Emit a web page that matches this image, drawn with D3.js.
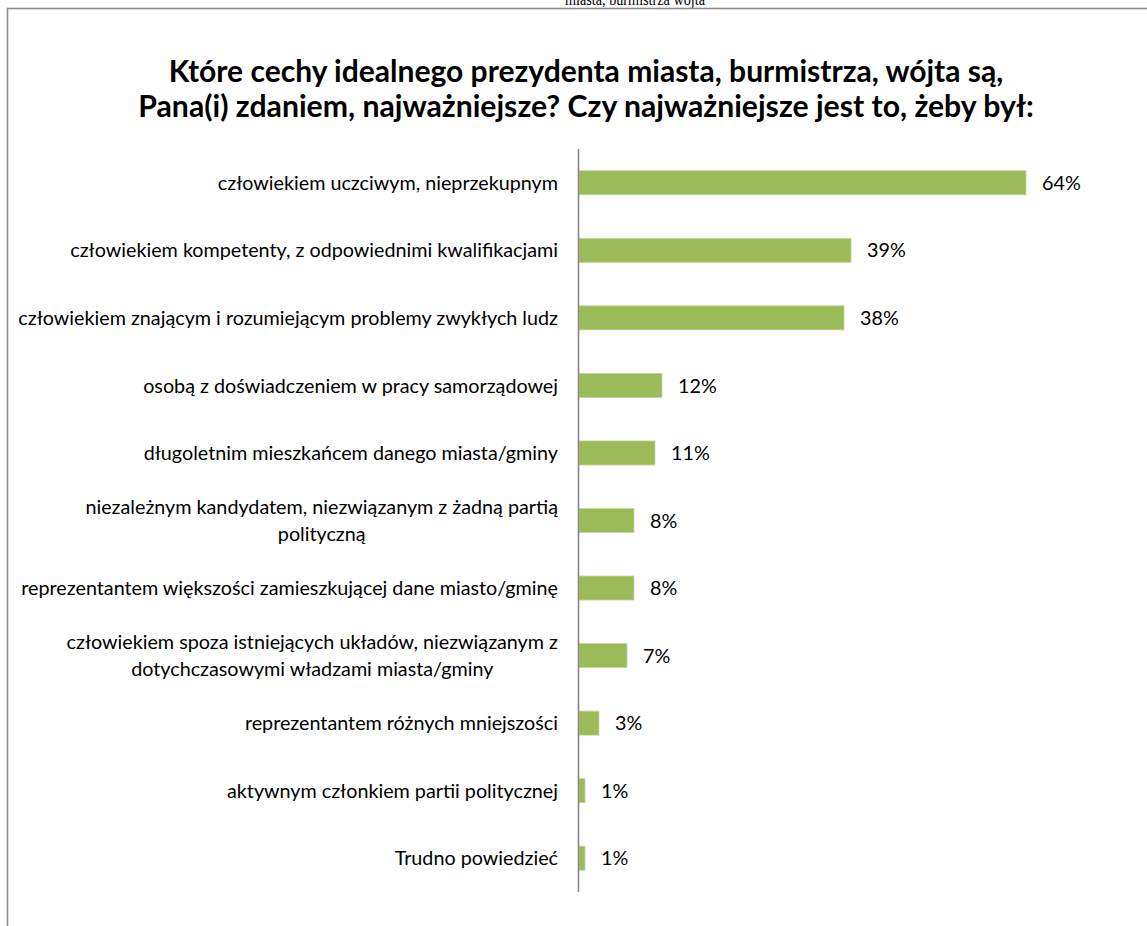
<!DOCTYPE html>
<html>
<head>
<meta charset="utf-8">
<script src="https://cdn.jsdelivr.net/npm/d3@7"></script>
<style>
  html, body { margin: 0; padding: 0; background: #fff; overflow: hidden; }
  svg { display: block; }
</style>
</head>
<body>
<script>
  // chart data
  const categories = [
    "człowiekiem uczciwym, nieprzekupnym",
    "człowiekiem kompetenty, z odpowiednimi kwalifikacjami",
    "człowiekiem znającym i rozumiejącym problemy zwykłych ludz",
    "osobą z doświadczeniem w pracy samorządowej",
    "długoletnim mieszkańcem danego miasta/gminy",
    "niezależnym kandydatem, niezwiązanym z żadną partią\npolityczną",
    "reprezentantem większości zamieszkującej dane miasto/gminę",
    "człowiekiem spoza istniejących układów, niezwiązanym z\ndotychczasowymi władzami miasta/gminy",
    "reprezentantem różnych mniejszości",
    "aktywnym członkiem partii politycznej",
    "Trudno powiedzieć",
  ];
  const values = [64, 39, 38, 12, 11, 8, 8, 7, 3, 1, 1];
  const titleLines = [
    "Które cechy idealnego prezydenta miasta, burmistrza, wójta są,",
    "Pana(i) zdaniem, najważniejsze? Czy najważniejsze jest to, żeby był:",
  ];
  const headerText = "miasta, burmistrza wójta";

  const width = 1147;
  const height = 926;
  const font = "Lato, 'Open Sans', sans-serif";

  const svg = d3.select("body").append("svg")
    .attr("width", width)
    .attr("height", height);

  // header from the page above, cut by the top edge as in the scan
  svg.append("text")
    .attr("x", 565)
    .attr("y", 5)
    .attr("font-family", "'Liberation Serif', serif")
    .attr("font-size", 17)
    .attr("textLength", 140)
    .attr("lengthAdjust", "spacingAndGlyphs")
    .attr("fill", "#000")
    .text(headerText);

  // frame
  svg.append("rect")
    .attr("x", 7.5)
    .attr("y", 8.5)
    .attr("width", width + 20)
    .attr("height", height + 20)
    .attr("fill", "none")
    .attr("stroke", "#8c8c8c")
    .attr("stroke-width", 1.6);

  // title
  const titleTargets = [835, 896];
  const title = svg.append("g")
    .attr("font-family", font)
    .attr("font-weight", "bold")
    .attr("fill", "#000")
    .attr("text-anchor", "middle");
  titleLines.forEach((t, i) => {
    const el = title.append("text")
      .attr("x", 586)
      .attr("y", 82 + i * 35)
      .attr("font-size", 25)
      .text(t);
    const w = el.node().getComputedTextLength();
    el.attr("font-size", 25 * titleTargets[i] / w);
  });

  const margin = { top: 149, bottom: 34, left: 578, right: 40 };

  const x = d3.scaleLinear()
    .domain([0, 64])
    .range([margin.left, 1026]);

  const y = d3.scaleBand()
    .domain(categories)
    .range([margin.top, height - margin.bottom])
    .paddingInner(0.644)
    .paddingOuter(0.322);

  // measure label font size so the longest line spans ~540px
  const probe = svg.append("text")
    .attr("font-family", font)
    .attr("font-size", 16)
    .text(categories[2]);
  const labelSize = 16 * 540 / probe.node().getComputedTextLength();
  probe.remove();

  // bars
  svg.append("g")
    .selectAll("rect")
    .data(values)
    .enter()
    .append("rect")
    .attr("x", x(0) + 1)
    .attr("y", (d, i) => y(categories[i]))
    .attr("width", (d) => x(d) - x(0) - 1)
    .attr("height", y.bandwidth())
    .attr("fill", "#9bbb59")
    .attr("stroke", "#c3d69b")
    .attr("stroke-width", 0.8);

  // value labels
  svg.append("g")
    .attr("font-family", font)
    .attr("font-size", labelSize)
    .attr("fill", "#000")
    .selectAll("text")
    .data(values)
    .enter()
    .append("text")
    .attr("x", (d) => x(d) + 16)
    .attr("y", (d, i) => y(categories[i]) + y.bandwidth() / 2)
    .attr("dy", "0.36em")
    .text((d) => d + "%");

  // category axis
  const yAxis = d3.axisLeft(y).tickSize(0).tickPadding(20);
  const axisG = svg.append("g")
    .attr("transform", `translate(${margin.left},0)`)
    .call(yAxis);

  axisG.select(".domain")
    .attr("stroke", "#868686")
    .attr("stroke-width", 1.6)
    .attr("d", `M0.5,${margin.top}V${height - margin.bottom}`);

  axisG.selectAll(".tick text")
    .attr("font-family", font)
    .attr("font-size", labelSize)
    .attr("fill", "#000")
    .each(function (d) {
      const lines = d.split("\n");
      const el = d3.select(this).text(null);
      if (lines.length === 1) {
        el.append("tspan").attr("x", -20).attr("dy", "0.36em").text(lines[0]);
        return;
      }
      // wrapped labels are centred within their block, block right-aligned
      const tmp = svg.append("text")
        .attr("font-family", font)
        .attr("font-size", labelSize);
      const widths = lines.map((l) => {
        tmp.text(l);
        return tmp.node().getComputedTextLength();
      });
      tmp.remove();
      const blockW = d3.max(widths);
      const cx = -20 - blockW / 2;
      el.attr("text-anchor", "middle");
      lines.forEach((l, i) => {
        el.append("tspan")
          .attr("x", cx)
          .attr("dy", i === 0 ? `${0.36 - 0.68}em` : "1.36em")
          .text(l);
      });
    });
</script>
</body>
</html>
